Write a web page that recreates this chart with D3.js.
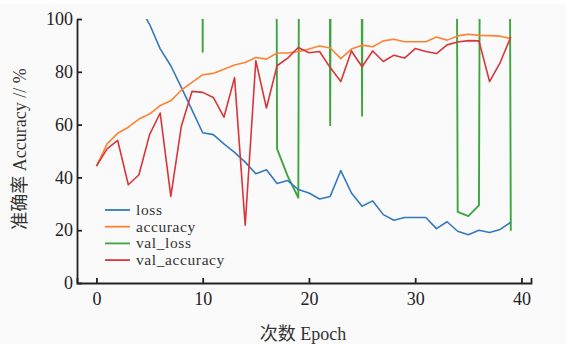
<!DOCTYPE html>
<html>
<head>
<meta charset="utf-8">
<script src="https://cdn.jsdelivr.net/npm/d3@7"></script>
<style>
  body { margin: 0; background: #fff; }
  svg { display: block; }
  .axis text { font-family: "Liberation Serif", serif; font-size: 18px; fill: #222; }
  .axis path, .axis line { stroke: #222; stroke-width: 1.8; }
  .title { font-family: "Liberation Serif", "Noto Sans CJK SC", serif; font-size: 18px; fill: #333; }
  .legend text { font-family: "Liberation Serif", serif; font-size: 15.5px; letter-spacing: 0.6px; fill: #333; }
</style>
</head>
<body>
<div id="chart"></div>
<script>
// Epochs 0..39
const epochs = d3.range(0, 40);

// loss (values above 100 run off the top of the plot)
const loss = [175, 150, 132, 118, 105, 98, 88.7, 82.3, 74, 65.5,
  56.9, 56.2, 52.7, 49.5, 45.8, 41.4, 42.9, 37.7, 38.8, 35.4,
  34.1, 31.8, 32.8, 42.6, 34.1, 29.1, 31.1, 25.9, 23.8, 24.8,
  24.8, 24.8, 20.6, 23.2, 19.6, 18.3, 20.0, 19.1, 20.3, 23.0];

const accuracy = [44.3, 52.7, 56.7, 59.0, 62.1, 64.0, 67.2, 69.0, 73.1, 76.0,
  78.9, 79.4, 81.0, 82.6, 83.5, 85.4, 84.8, 87.1, 87.1, 87.7,
  88.6, 89.8, 89.0, 85.0, 88.6, 90.1, 89.5, 91.7, 92.3, 91.4,
  91.4, 91.4, 93.2, 92.0, 93.6, 94.2, 93.8, 93.7, 93.5, 92.6];

// val_loss: most epochs are far above the 0-100 range
const valLoss = [3200, 2900, 2750, 2600, 2480, 2350, 2200, 2100, 1980, 1900,
  87.6, 1850, 1790, 1720, 1680, 1640, 1600, 50.8, 40.5, 32.3,
  1550, 1500, 59.8, 1460, 1420, 63.4, 1390, 1360, 1330, 1300,
  1280, 1250, 1230, 1210, 26.9, 25.3, 29.4, 1180, 1160, 19.8];

const valAccuracy = [44.3, 50.8, 54.0, 37.2, 41.0, 56.2, 64.4, 32.8, 59.6, 72.6,
  72.2, 70.3, 62.8, 77.8, 21.9, 84.2, 66.3, 82.3, 85.2, 89.2,
  87.2, 87.7, 81.6, 76.3, 87.9, 81.9, 87.9, 83.9, 86.3, 85.2,
  88.8, 87.7, 86.9, 90.2, 91.3, 91.8, 91.7, 76.3, 83.5, 93.2];

const seriesNames = ['loss', 'accuracy', 'val_loss', 'val_accuracy'];
const seriesColors = ['#3479bd', '#ff8232', '#3ea63e', '#d8363a'];
const yTicks = [0, 20, 40, 60, 80, 100];
const xTicks = [0, 10, 20, 30, 40];

class HistoryChart {

  constructor(_config) {
    this.config = {
      parentElement: _config.parentElement,
      containerWidth: 577,
      containerHeight: 344,
      margin: { top: 19, bottom: 61, right: 46, left: 77 }
    };
    this.series = [loss, accuracy, valLoss, valAccuracy];
    this.initVis();
  }

  initVis() {
    const vis = this;
    const m = vis.config.margin;
    vis.width = vis.config.containerWidth - m.left - m.right;
    vis.height = vis.config.containerHeight - m.top - m.bottom;

    vis.root = d3.select(vis.config.parentElement)
      .append('svg')
      .attr('width', vis.config.containerWidth)
      .attr('height', vis.config.containerHeight);

    // light grey page behind the figure
    vis.root.append('rect')
      .attr('x', 0).attr('y', 4)
      .attr('width', 566).attr('height', 340)
      .attr('fill', '#fafafa');

    vis.svg = vis.root.append('g')
      .attr('transform', `translate(${m.left},${m.top})`);

    vis.xScale = d3.scaleLinear().domain([-1.83, 40.9]).range([0, vis.width]);
    vis.yScale = d3.scaleLinear().domain([0, 100]).range([vis.height, 0]);

    vis.svg.append('clipPath').attr('id', 'plot-clip')
      .append('rect')
      .attr('width', vis.width)
      .attr('height', vis.height);

    // Lines
    vis.line = d3.line()
      .x((d, i) => vis.xScale(epochs[i]))
      .y(d => vis.yScale(d));

    const order = [2, 0, 1, 3];
    vis.svg.append('g')
      .attr('clip-path', 'url(#plot-clip)')
      .selectAll('path')
      .data(order)
      .join('path')
      .attr('d', k => vis.line(vis.series[k]))
      .attr('fill', 'none')
      .attr('stroke', k => seriesColors[k])
      .attr('stroke-width', k => k === 2 ? 1.9 : 1.6)
      .attr('stroke-linejoin', 'round');

    // Axes with inward ticks
    vis.xAxis = d3.axisBottom(vis.xScale)
      .tickValues(xTicks).tickSizeInner(-5).tickSizeOuter(-5).tickPadding(9);
    vis.yAxis = d3.axisLeft(vis.yScale)
      .tickValues(yTicks).tickSizeInner(-5).tickSizeOuter(0).tickPadding(4);

    vis.svg.append('g')
      .attr('class', 'axis')
      .attr('transform', `translate(0,${vis.height})`)
      .call(vis.xAxis);
    vis.svg.append('g')
      .attr('class', 'axis')
      .call(vis.yAxis);

    // Axis titles
    vis.root.append('text')
      .attr('class', 'title')
      .attr('transform', 'translate(26,149) rotate(-90)')
      .attr('text-anchor', 'middle')
      .text('准确率 Accuracy // %');

    vis.root.append('text')
      .attr('class', 'title')
      .attr('x', 303)
      .attr('y', 340)
      .attr('text-anchor', 'middle')
      .text('次数 Epoch');

    // Legend
    const legend = vis.root.append('g')
      .attr('class', 'legend')
      .attr('transform', 'translate(105,210)');
    const rows = legend.selectAll('g')
      .data(seriesNames)
      .join('g')
      .attr('transform', (d, i) => `translate(0,${i * 16.7})`);
    rows.append('line')
      .attr('x1', 0).attr('x2', 25)
      .attr('stroke', (d, i) => seriesColors[i])
      .attr('stroke-width', 1.8);
    rows.append('text')
      .attr('x', 31)
      .attr('y', 5)
      .text(d => d);
  }
}

new HistoryChart({ parentElement: '#chart' });
</script>
</body>
</html>
